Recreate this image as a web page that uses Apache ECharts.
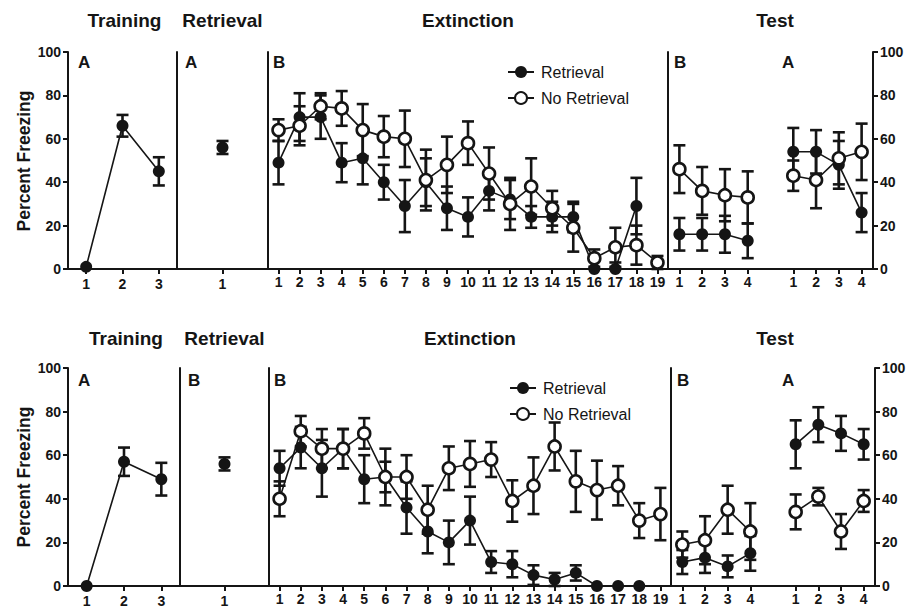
<!DOCTYPE html>
<html><head><meta charset="utf-8">
<script src="https://cdn.jsdelivr.net/npm/echarts@6/dist/echarts.min.js"></script>
<style>html,body{margin:0;padding:0;background:#fff}#c{width:919px;height:613px}</style>
</head><body><div id="c"></div>
<script>
// ---------- categories / tick labels ----------
const trainCats = ['1','2','3'];
const retCats = ['1'];
const extCats = ['1','2','3','4','5','6','7','8','9','10','11','12','13','14','15','16','17','18','19'];
const testCats = ['1','2','3','4','','1','2','3','4'];
const yTicks = [0, 20, 40, 60, 80, 100];

// ---------- top row (retrieval in A) ----------
const trainTopR = [1, 66, 45];
const trainTopRErr = [0, 5, 6.5];
const retTopR = [56];
const retTopRErr = [3];
const extTopR = [49, 70, 70, 49, 51, 40, 29, 40, 28, 24, 36, 32, 24, 24, 24, 0, 0, 29, null];
const extTopRErr = [10, 11, 10, 9, 12, 8, 12, 11, 10, 9, 9, 9, 5, 7, 7, 0, 3, 13, null];
const extTopN = [64, 66, 75, 74, 64, 61, 60, 41, 48, 58, 44, 30, 38, 28, 19, 5, 10, 11, 3];
const extTopNErr = [5, 9, 6, 8, 12, 9.5, 13, 14, 13, 10, 12, 12, 13, 8, 11, 4, 9, 9, 3];
const testTopBR = [16, 16, 16, 13];
const testTopBRErr = [7.5, 7.5, 8.5, 8];
const testTopBN = [46, 36, 34, 33];
const testTopBNErr = [11, 11, 12, 12];
const testTopAR = [54, 54, 48, 26];
const testTopARErr = [11, 10, 11, 9];
const testTopAN = [43, 41, 51, 54];
const testTopANErr = [7, 13, 12, 13];

// ---------- bottom row (retrieval in B) ----------
const trainBotR = [0, 57, 49];
const trainBotRErr = [0, 6.5, 7.5];
const retBotR = [56];
const retBotRErr = [3];
const extBotR = [54, 63.5, 54, 63, 49, 50, 36, 25, 20, 30, 11, 10, 5, 3, 6, 0, 0, 0, null];
const extBotRErr = [8, 9.5, 13, 9, 11, 13, 12, 10, 10, 11, 5, 6, 4.5, 3, 3.5, 0, 0, 0, null];
const extBotN = [40, 71, 63, 63, 70, 50, 50, 35, 54, 56, 58, 39, 46, 64, 48, 44, 46, 30, 33];
const extBotNErr = [8, 7, 9, 9, 7, 7, 10, 11, 10, 10.5, 8, 9.5, 13, 11, 14, 13.5, 9, 8, 12];
const testBotBR = [11, 13, 9, 15];
const testBotBRErr = [5.5, 7, 5, 8];
const testBotBN = [19, 21, 35, 25];
const testBotBNErr = [6, 11, 11, 13];
const testBotAR = [65, 74, 70, 65];
const testBotARErr = [11, 8, 8, 7];
const testBotAN = [34, 41, 25, 39];
const testBotANErr = [8, 4, 8, 5];

// ---------- texts ----------
const seriesNames = ['Retrieval', 'No Retrieval'];
const phaseTitles = ['Training', 'Retrieval', 'Extinction', 'Test'];
const yTitle = 'Percent Freezing';
const topLetters = ['A', 'A', 'B', 'B', 'A'];
const botLetters = ['A', 'B', 'B', 'B', 'A'];

// ---------- build ----------
const FONT = '"Liberation Sans", Arial, Helvetica, sans-serif';
const INK = '#151515';

const rows = [
  {top: 52, height: 217, b: [68, 177, 268, 668, 873], titleY: 20, letterY: 62, legendTop: 59, legendLeft: 502, yTitleY: 161, letters: topLetters,
   train: [trainTopR, trainTopRErr], ret: [retTopR, retTopRErr], extR: [extTopR, extTopRErr], extN: [extTopN, extTopNErr],
   testR: [testTopBR, testTopBRErr, testTopAR, testTopARErr], testN: [testTopBN, testTopBNErr, testTopAN, testTopANErr]},
  {top: 368, height: 218, b: [68, 180, 269, 671, 875], titleY: 338, letterY: 380, legendTop: 375, legendLeft: 504, yTitleY: 477, letters: botLetters,
   train: [trainBotR, trainBotRErr], ret: [retBotR, retBotRErr], extR: [extBotR, extBotRErr], extN: [extBotN, extBotNErr],
   testR: [testBotBR, testBotBRErr, testBotAR, testBotARErr], testN: [testBotBN, testBotBNErr, testBotAN, testBotANErr]}
];

const grid = [], xAxis = [], yAxis = [], series = [], graphic = [], legend = [];

function joinTest(b, a) { return b.concat([null], a); }

function errData(means, errs) {
  const out = [];
  means.forEach((m, i) => {
    if (m == null || errs[i] == null || errs[i] === 0) return;
    out.push([i, Math.max(0, m - errs[i]), Math.min(100, m + errs[i])]);
  });
  return out;
}

function renderErr(params, api) {
  const x = api.value(0);
  const p1 = api.coord([x, api.value(2)]);
  const p2 = api.coord([x, api.value(1)]);
  const w = 6;
  const st = {stroke: INK, lineWidth: 2.6};
  return {type: 'group', children: [
    {type: 'line', shape: {x1: p1[0], y1: p1[1], x2: p2[0], y2: p2[1]}, style: st},
    {type: 'line', shape: {x1: p1[0] - w, y1: p1[1], x2: p1[0] + w, y2: p1[1]}, style: st},
    {type: 'line', shape: {x1: p2[0] - w, y1: p2[1], x2: p2[0] + w, y2: p2[1]}, style: st}
  ]};
}

function addPair(xi, yi, means, errs, filled, name) {
  series.push({
    type: 'custom', name: 'err', xAxisIndex: xi, yAxisIndex: yi, z: 2, silent: true,
    renderItem: renderErr, data: errData(means, errs), clip: false
  });
  series.push({
    type: 'line', name: name, xAxisIndex: xi, yAxisIndex: yi, z: filled ? 3 : 4,
    data: means, symbol: 'circle', symbolSize: 12, showSymbol: true, showAllSymbol: true,
    connectNulls: false, clip: false,
    lineStyle: {color: INK, width: 1.6},
    itemStyle: filled ? {color: INK, borderColor: INK, borderWidth: 0}
                      : {color: '#ffffff', borderColor: INK, borderWidth: 2.6},
    emphasis: {disabled: true}
  });
}

const cats = [trainCats, retCats, extCats, testCats];

rows.forEach((r, ri) => {
  const g0 = grid.length;
  for (let k = 0; k < 4; k++) {
    grid.push({left: r.b[k], width: r.b[k + 1] - r.b[k], top: r.top, height: r.height,
               containLabel: false, outerBoundsMode: 'none'});
    const lblMargin = (k < 2) ? 8 : 6;
    xAxis.push({
      type: 'category', gridIndex: g0 + k, data: cats[k], boundaryGap: true,
      axisLine: {show: true, onZero: false, lineStyle: {color: INK, width: 2}},
      axisTick: {show: true, alignWithLabel: true, length: 5, lineStyle: {color: INK, width: 2},
                 interval: (idx, val) => val !== ''},
      axisLabel: {show: true, interval: 0, margin: lblMargin, color: INK, fontFamily: FONT, fontWeight: 'bold', fontSize: 14},
      splitLine: {show: false}
    });
  }
  const y0 = yAxis.length;
  for (let k = 0; k < 4; k++) {
    const main = k === 0;
    yAxis.push({
      type: 'value', gridIndex: g0 + k, min: 0, max: 100, interval: 20, position: 'left',
      axisLine: {show: true, lineStyle: {color: INK, width: 2}},
      axisTick: {show: main, length: 5, lineStyle: {color: INK, width: 2}},
      axisLabel: {show: main, margin: 7, color: INK, fontFamily: FONT, fontWeight: 'bold', fontSize: 14},
      splitLine: {show: false}
    });
  }
  yAxis.push({
    type: 'value', gridIndex: g0 + 3, min: 0, max: 100, interval: 20, position: 'right',
    axisLine: {show: true, lineStyle: {color: INK, width: 2}},
    axisTick: {show: true, length: 5, lineStyle: {color: INK, width: 2}},
    axisLabel: {show: true, margin: 7, color: INK, fontFamily: FONT, fontWeight: 'bold', fontSize: 14},
    splitLine: {show: false}
  });

  addPair(g0, y0, r.train[0], r.train[1], true, seriesNames[0]);
  addPair(g0 + 1, y0 + 1, r.ret[0], r.ret[1], true, seriesNames[0]);
  addPair(g0 + 2, y0 + 2, r.extR[0], r.extR[1], true, seriesNames[0]);
  addPair(g0 + 2, y0 + 2, r.extN[0], r.extN[1], false, seriesNames[1]);
  addPair(g0 + 3, y0 + 4, joinTest(r.testR[0], r.testR[2]), joinTest(r.testR[1], r.testR[3]), true, seriesNames[0]);
  addPair(g0 + 3, y0 + 4, joinTest(r.testN[0], r.testN[2]), joinTest(r.testN[1], r.testN[3]), false, seriesNames[1]);

  legend.push({
    data: seriesNames, orient: 'vertical', left: r.legendLeft, top: r.legendTop,
    itemWidth: 26, itemHeight: 15, itemGap: 10, selectedMode: false,
    textStyle: {color: INK, fontFamily: FONT, fontSize: 16, padding: [0, 0, 0, 2]}
  });

  const titleX = [(r.b[0] + r.b[1]) / 2 + 2, (r.b[1] + r.b[2]) / 2, (r.b[2] + r.b[3]) / 2, 775];
  phaseTitles.forEach((t, k) => {
    graphic.push({type: 'text', x: titleX[k], y: r.titleY, silent: true,
      style: {text: t, align: 'center', verticalAlign: 'middle', textAlign: 'center', textVerticalAlign: 'middle',
              fill: INK, fontFamily: FONT, fontWeight: 'bold', fontSize: 19}});
  });
  const letterX = [r.b[0] + 10, r.b[1] + 8, r.b[2] + 5, r.b[3] + 6, 782];
  r.letters.forEach((t, k) => {
    graphic.push({type: 'text', x: letterX[k], y: r.letterY, silent: true,
      style: {text: t, align: 'left', verticalAlign: 'middle', textAlign: 'left', textVerticalAlign: 'middle',
              fill: INK, fontFamily: FONT, fontWeight: 'bold', fontSize: 17}});
  });
  graphic.push({type: 'text', x: 24, y: r.yTitleY, rotation: Math.PI / 2, silent: true,
    style: {text: yTitle, align: 'center', verticalAlign: 'middle', textAlign: 'center', textVerticalAlign: 'middle',
            fill: INK, fontFamily: FONT, fontWeight: 'bold', fontSize: 17.5}});
});

const chart = echarts.init(document.getElementById('c'), null, {renderer: 'svg', width: 919, height: 613});
chart.setOption({
  animation: false,
  backgroundColor: '#ffffff',
  textStyle: {fontFamily: FONT},
  grid, xAxis, yAxis, series, legend, graphic
});
</script>
</body></html>
